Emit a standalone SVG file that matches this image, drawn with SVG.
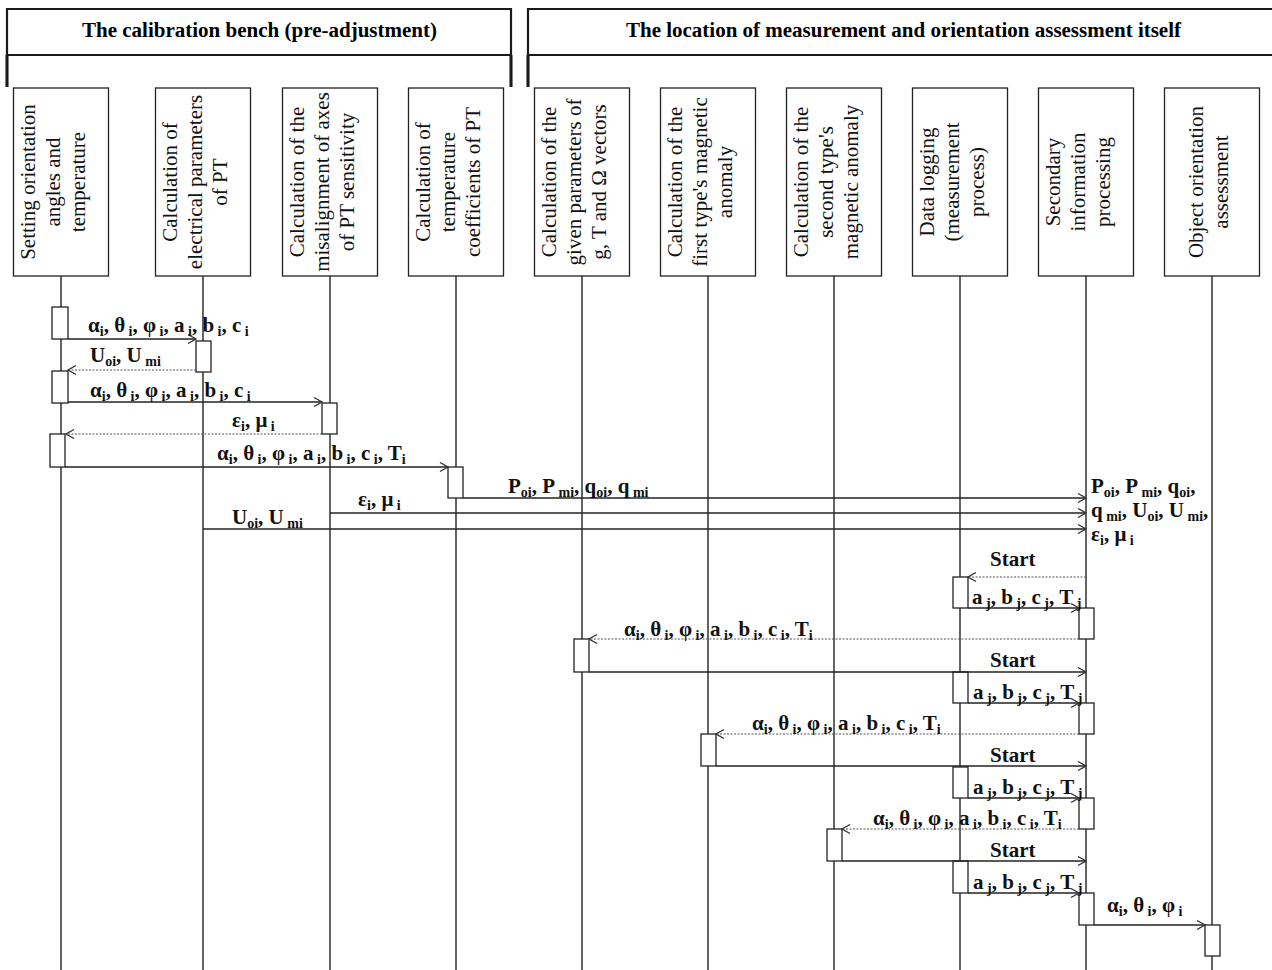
<svg xmlns="http://www.w3.org/2000/svg" width="1272" height="970" viewBox="0 0 1272 970">
<style>
.frame{fill:none;stroke:#1a1a1a;stroke-width:2.2}
.fv{stroke:#1a1a1a;stroke-width:3}
.title{font-family:"Liberation Serif",serif;font-weight:bold;font-size:20px;fill:#000}
.box{fill:#fff;stroke:#222;stroke-width:1.3}
.bt{font-family:"Liberation Serif",serif;font-size:21px;fill:#111}
.life{stroke:#222;stroke-width:1.4}
.act{fill:#fff;stroke:#222;stroke-width:1.3}
.m{stroke:#222;stroke-width:1.5;fill:none}
.d{stroke:#555;stroke-width:1.2;stroke-dasharray:2 1.5;fill:none}
.l{font-family:"Liberation Serif",serif;font-weight:bold;font-size:21px;fill:#111}
.s{font-size:14px}
</style>
<defs>
<marker id="ar" markerWidth="10" markerHeight="12" refX="9" refY="6" orient="auto" markerUnits="userSpaceOnUse">
<path d="M1,1.5 L9,6 L1,10.5" fill="none" stroke="#333" stroke-width="1.4"/>
</marker>
</defs>
<rect width="1272" height="970" fill="#fff"/>

<g id="frame-left">
<path class="frame" d="M7,87 V9 H511 V87"/>
<line class="frame" x1="7" y1="55" x2="511" y2="55"/>
<line class="fv" x1="7" y1="55" x2="7" y2="87"/>
<line class="fv" x1="511" y1="55" x2="511" y2="87"/>
<text class="title" x="82" y="37" textLength="355" lengthAdjust="spacingAndGlyphs">The calibration bench (pre-adjustment)</text>
</g>
<g id="frame-right">
<path class="frame" d="M528,87 V9 H1280"/>
<line class="frame" x1="528" y1="55" x2="1280" y2="55"/>
<line class="fv" x1="528" y1="55" x2="528" y2="87"/>
<text class="title" x="626" y="37" textLength="555" lengthAdjust="spacingAndGlyphs">The location of measurement and orientation assessment itself</text>
</g>

<g id="n1">
<line class="life" x1="61" y1="276" x2="61" y2="970"/>
<rect class="box" x="13.5" y="88" width="95" height="188"/>
<text class="bt" text-anchor="middle" transform="translate(35,182) rotate(-90)">Setting orientation</text>
<text class="bt" text-anchor="middle" transform="translate(60,182) rotate(-90)">angles and</text>
<text class="bt" text-anchor="middle" transform="translate(85,182) rotate(-90)">temperature</text>
<rect class="act" x="52" y="307" width="16" height="32"/>
<rect class="act" x="52" y="371" width="16" height="32"/>
<rect class="act" x="50" y="434" width="15" height="33"/>
</g>
<g id="n2">
<line class="life" x1="203" y1="276" x2="203" y2="970"/>
<rect class="box" x="155.5" y="88" width="95" height="188"/>
<text class="bt" text-anchor="middle" transform="translate(177,182) rotate(-90)">Calculation of</text>
<text class="bt" text-anchor="middle" transform="translate(202,182) rotate(-90)">electrical parameters</text>
<text class="bt" text-anchor="middle" transform="translate(227,182) rotate(-90)">of PT</text>
<rect class="act" x="196" y="341" width="15" height="31"/>
</g>
<g id="n3">
<line class="life" x1="330" y1="276" x2="330" y2="970"/>
<rect class="box" x="282.5" y="88" width="95" height="188"/>
<text class="bt" text-anchor="middle" transform="translate(304,182) rotate(-90)">Calculation of the</text>
<text class="bt" text-anchor="middle" transform="translate(329,182) rotate(-90)">misalignment of axes</text>
<text class="bt" text-anchor="middle" transform="translate(354,182) rotate(-90)">of PT sensitivity</text>
<rect class="act" x="322" y="403" width="15" height="31"/>
</g>
<g id="n4">
<line class="life" x1="456" y1="276" x2="456" y2="970"/>
<rect class="box" x="408.5" y="88" width="95" height="188"/>
<text class="bt" text-anchor="middle" transform="translate(430,182) rotate(-90)">Calculation of</text>
<text class="bt" text-anchor="middle" transform="translate(455,182) rotate(-90)">temperature</text>
<text class="bt" text-anchor="middle" transform="translate(480,182) rotate(-90)">coefficients of PT</text>
<rect class="act" x="448" y="467" width="15" height="31"/>
</g>
<g id="n5">
<line class="life" x1="582" y1="276" x2="582" y2="970"/>
<rect class="box" x="534.5" y="88" width="95" height="188"/>
<text class="bt" text-anchor="middle" transform="translate(556,182) rotate(-90)">Calculation of the</text>
<text class="bt" text-anchor="middle" transform="translate(581,182) rotate(-90)">given parameters of</text>
<text class="bt" text-anchor="middle" transform="translate(606,182) rotate(-90)">g, T and Ω vectors</text>
<rect class="act" x="574" y="639" width="15" height="33"/>
</g>
<g id="n6">
<line class="life" x1="708" y1="276" x2="708" y2="970"/>
<rect class="box" x="660.5" y="88" width="95" height="188"/>
<text class="bt" text-anchor="middle" transform="translate(682,182) rotate(-90)">Calculation of the</text>
<text class="bt" text-anchor="middle" transform="translate(707,182) rotate(-90)">first type's magnetic</text>
<text class="bt" text-anchor="middle" transform="translate(732,182) rotate(-90)">anomaly</text>
<rect class="act" x="701" y="734" width="15" height="32"/>
</g>
<g id="n7">
<line class="life" x1="834" y1="276" x2="834" y2="970"/>
<rect class="box" x="786.5" y="88" width="95" height="188"/>
<text class="bt" text-anchor="middle" transform="translate(808,182) rotate(-90)">Calculation of the</text>
<text class="bt" text-anchor="middle" transform="translate(833,182) rotate(-90)">second type's</text>
<text class="bt" text-anchor="middle" transform="translate(858,182) rotate(-90)">magnetic anomaly</text>
<rect class="act" x="827" y="829" width="15" height="32"/>
</g>
<g id="n8">
<line class="life" x1="960" y1="276" x2="960" y2="970"/>
<rect class="box" x="912.5" y="88" width="95" height="188"/>
<text class="bt" text-anchor="middle" transform="translate(934,182) rotate(-90)">Data logging</text>
<text class="bt" text-anchor="middle" transform="translate(959,182) rotate(-90)">(measurement</text>
<text class="bt" text-anchor="middle" transform="translate(984,182) rotate(-90)">process)</text>
<rect class="act" x="953" y="577" width="15" height="31"/>
<rect class="act" x="953" y="672" width="15" height="31"/>
<rect class="act" x="953" y="767" width="15" height="31"/>
<rect class="act" x="953" y="861" width="15" height="32"/>
</g>
<g id="n9">
<line class="life" x1="1086" y1="276" x2="1086" y2="970"/>
<rect class="box" x="1038.5" y="88" width="95" height="188"/>
<text class="bt" text-anchor="middle" transform="translate(1060,182) rotate(-90)">Secondary</text>
<text class="bt" text-anchor="middle" transform="translate(1085,182) rotate(-90)">information</text>
<text class="bt" text-anchor="middle" transform="translate(1110,182) rotate(-90)">processing</text>
<rect class="act" x="1079" y="608" width="15" height="31"/>
<rect class="act" x="1079" y="703" width="15" height="31"/>
<rect class="act" x="1079" y="798" width="15" height="31"/>
<rect class="act" x="1079" y="893" width="15" height="32"/>
</g>
<g id="n10">
<line class="life" x1="1212" y1="276" x2="1212" y2="970"/>
<rect class="box" x="1164.5" y="88" width="95" height="188"/>
<text class="bt" text-anchor="middle" transform="translate(1203,182) rotate(-90)">Object orientation</text>
<text class="bt" text-anchor="middle" transform="translate(1228,182) rotate(-90)">assessment</text>
<rect class="act" x="1205" y="925" width="15" height="31"/>
</g>

<g id="connectors">
<line class="m" x1="68" y1="339" x2="196" y2="339" marker-end="url(#ar)"/>
<line class="d" x1="196" y1="370" x2="68" y2="370" marker-end="url(#ar)"/>
<line class="m" x1="68" y1="402" x2="322" y2="402" marker-end="url(#ar)"/>
<line class="d" x1="322" y1="434" x2="66" y2="434" marker-end="url(#ar)"/>
<line class="m" x1="65" y1="467" x2="448" y2="467" marker-end="url(#ar)"/>
<line class="m" x1="463" y1="498" x2="1086" y2="498" marker-end="url(#ar)"/>
<line class="m" x1="330" y1="513" x2="1086" y2="513" marker-end="url(#ar)"/>
<line class="m" x1="203" y1="529" x2="1086" y2="529" marker-end="url(#ar)"/>
<line class="d" x1="1086" y1="577" x2="968" y2="577" marker-end="url(#ar)"/>
<line class="m" x1="968" y1="608" x2="1079" y2="608" marker-end="url(#ar)"/>
<line class="d" x1="1079" y1="639" x2="589" y2="639" marker-end="url(#ar)"/>
<line class="m" x1="589" y1="672" x2="1086" y2="672" marker-end="url(#ar)"/>
<line class="m" x1="968" y1="703" x2="1079" y2="703" marker-end="url(#ar)"/>
<line class="d" x1="1079" y1="734" x2="716" y2="734" marker-end="url(#ar)"/>
<line class="m" x1="716" y1="766" x2="1086" y2="766" marker-end="url(#ar)"/>
<line class="m" x1="968" y1="798" x2="1079" y2="798" marker-end="url(#ar)"/>
<line class="d" x1="1079" y1="829" x2="842" y2="829" marker-end="url(#ar)"/>
<line class="m" x1="842" y1="861" x2="1086" y2="861" marker-end="url(#ar)"/>
<line class="m" x1="968" y1="893" x2="1079" y2="893" marker-end="url(#ar)"/>
<line class="m" x1="1094" y1="925" x2="1205" y2="925" marker-end="url(#ar)"/>
</g>

<g id="labels">
<text class="l" x="88" y="332">α<tspan class="s" dy="4">i</tspan><tspan dy="-4">, θ</tspan><tspan class="s" dy="4"> i</tspan><tspan dy="-4">, φ</tspan><tspan class="s" dy="4"> i</tspan><tspan dy="-4">, a</tspan><tspan class="s" dy="4"> i</tspan><tspan dy="-4">, b</tspan><tspan class="s" dy="4"> i</tspan><tspan dy="-4">, c</tspan><tspan class="s" dy="4"> i</tspan></text>
<text class="l" x="90" y="362">U<tspan class="s" dy="4">oi</tspan><tspan dy="-4">, U</tspan><tspan class="s" dy="4"> mi</tspan></text>
<text class="l" x="90" y="397">α<tspan class="s" dy="4">i</tspan><tspan dy="-4">, θ</tspan><tspan class="s" dy="4"> i</tspan><tspan dy="-4">, φ</tspan><tspan class="s" dy="4"> i</tspan><tspan dy="-4">, a</tspan><tspan class="s" dy="4"> i</tspan><tspan dy="-4">, b</tspan><tspan class="s" dy="4"> i</tspan><tspan dy="-4">, c</tspan><tspan class="s" dy="4"> i</tspan></text>
<text class="l" x="232" y="427">ε<tspan class="s" dy="4">i</tspan><tspan dy="-4">, μ</tspan><tspan class="s" dy="4"> i</tspan></text>
<text class="l" x="217" y="460">α<tspan class="s" dy="4">i</tspan><tspan dy="-4">, θ</tspan><tspan class="s" dy="4"> i</tspan><tspan dy="-4">, φ</tspan><tspan class="s" dy="4"> i</tspan><tspan dy="-4">, a</tspan><tspan class="s" dy="4"> i</tspan><tspan dy="-4">, b</tspan><tspan class="s" dy="4"> i</tspan><tspan dy="-4">, c</tspan><tspan class="s" dy="4"> i</tspan><tspan dy="-4">, T</tspan><tspan class="s" dy="4">i</tspan></text>
<text class="l" x="508" y="493">P<tspan class="s" dy="4">oi</tspan><tspan dy="-4">, P</tspan><tspan class="s" dy="4"> mi</tspan><tspan dy="-4">, q</tspan><tspan class="s" dy="4">oi</tspan><tspan dy="-4">, q</tspan><tspan class="s" dy="4"> mi</tspan></text>
<text class="l" x="358" y="506">ε<tspan class="s" dy="4">i</tspan><tspan dy="-4">, μ</tspan><tspan class="s" dy="4"> i</tspan></text>
<text class="l" x="232" y="524">U<tspan class="s" dy="4">oi</tspan><tspan dy="-4">, U</tspan><tspan class="s" dy="4"> mi</tspan></text>
<text class="l" x="1091" y="493">P<tspan class="s" dy="4">oi</tspan><tspan dy="-4">, P</tspan><tspan class="s" dy="4"> mi</tspan><tspan dy="-4">, q</tspan><tspan class="s" dy="4">oi</tspan><tspan dy="-4">,</tspan></text>
<text class="l" x="1091" y="517">q<tspan class="s" dy="4"> mi</tspan><tspan dy="-4">, U</tspan><tspan class="s" dy="4">oi</tspan><tspan dy="-4">, U</tspan><tspan class="s" dy="4"> mi</tspan><tspan dy="-4">,</tspan></text>
<text class="l" x="1091" y="541">ε<tspan class="s" dy="4">i</tspan><tspan dy="-4">, μ</tspan><tspan class="s" dy="4"> i</tspan></text>

<text class="l" x="990" y="566">Start</text>
<text class="l" x="972" y="604">a<tspan class="s" dy="4"> j</tspan><tspan dy="-4">, b</tspan><tspan class="s" dy="4"> j</tspan><tspan dy="-4">, c</tspan><tspan class="s" dy="4"> j</tspan><tspan dy="-4">, T</tspan><tspan class="s" dy="4"> j</tspan></text>
<text class="l" x="624" y="636">α<tspan class="s" dy="4">i</tspan><tspan dy="-4">, θ</tspan><tspan class="s" dy="4"> i</tspan><tspan dy="-4">, φ</tspan><tspan class="s" dy="4"> i</tspan><tspan dy="-4">, a</tspan><tspan class="s" dy="4"> i</tspan><tspan dy="-4">, b</tspan><tspan class="s" dy="4"> i</tspan><tspan dy="-4">, c</tspan><tspan class="s" dy="4"> i</tspan><tspan dy="-4">, T</tspan><tspan class="s" dy="4">i</tspan></text>
<text class="l" x="990" y="667">Start</text>
<text class="l" x="973" y="699">a<tspan class="s" dy="4"> j</tspan><tspan dy="-4">, b</tspan><tspan class="s" dy="4"> j</tspan><tspan dy="-4">, c</tspan><tspan class="s" dy="4"> j</tspan><tspan dy="-4">, T</tspan><tspan class="s" dy="4"> j</tspan></text>
<text class="l" x="752" y="730">α<tspan class="s" dy="4">i</tspan><tspan dy="-4">, θ</tspan><tspan class="s" dy="4"> i</tspan><tspan dy="-4">, φ</tspan><tspan class="s" dy="4"> i</tspan><tspan dy="-4">, a</tspan><tspan class="s" dy="4"> i</tspan><tspan dy="-4">, b</tspan><tspan class="s" dy="4"> i</tspan><tspan dy="-4">, c</tspan><tspan class="s" dy="4"> i</tspan><tspan dy="-4">, T</tspan><tspan class="s" dy="4">i</tspan></text>
<text class="l" x="990" y="762">Start</text>
<text class="l" x="973" y="794">a<tspan class="s" dy="4"> j</tspan><tspan dy="-4">, b</tspan><tspan class="s" dy="4"> j</tspan><tspan dy="-4">, c</tspan><tspan class="s" dy="4"> j</tspan><tspan dy="-4">, T</tspan><tspan class="s" dy="4"> j</tspan></text>
<text class="l" x="873" y="825">α<tspan class="s" dy="4">i</tspan><tspan dy="-4">, θ</tspan><tspan class="s" dy="4"> i</tspan><tspan dy="-4">, φ</tspan><tspan class="s" dy="4"> i</tspan><tspan dy="-4">, a</tspan><tspan class="s" dy="4"> i</tspan><tspan dy="-4">, b</tspan><tspan class="s" dy="4"> i</tspan><tspan dy="-4">, c</tspan><tspan class="s" dy="4"> i</tspan><tspan dy="-4">, T</tspan><tspan class="s" dy="4">i</tspan></text>
<text class="l" x="990" y="857">Start</text>
<text class="l" x="973" y="889">a<tspan class="s" dy="4"> j</tspan><tspan dy="-4">, b</tspan><tspan class="s" dy="4"> j</tspan><tspan dy="-4">, c</tspan><tspan class="s" dy="4"> j</tspan><tspan dy="-4">, T</tspan><tspan class="s" dy="4"> j</tspan></text>
<text class="l" x="1107" y="912">α<tspan class="s" dy="4">i</tspan><tspan dy="-4">, θ</tspan><tspan class="s" dy="4"> i</tspan><tspan dy="-4">, φ</tspan><tspan class="s" dy="4"> i</tspan></text>
</g>
</svg>
